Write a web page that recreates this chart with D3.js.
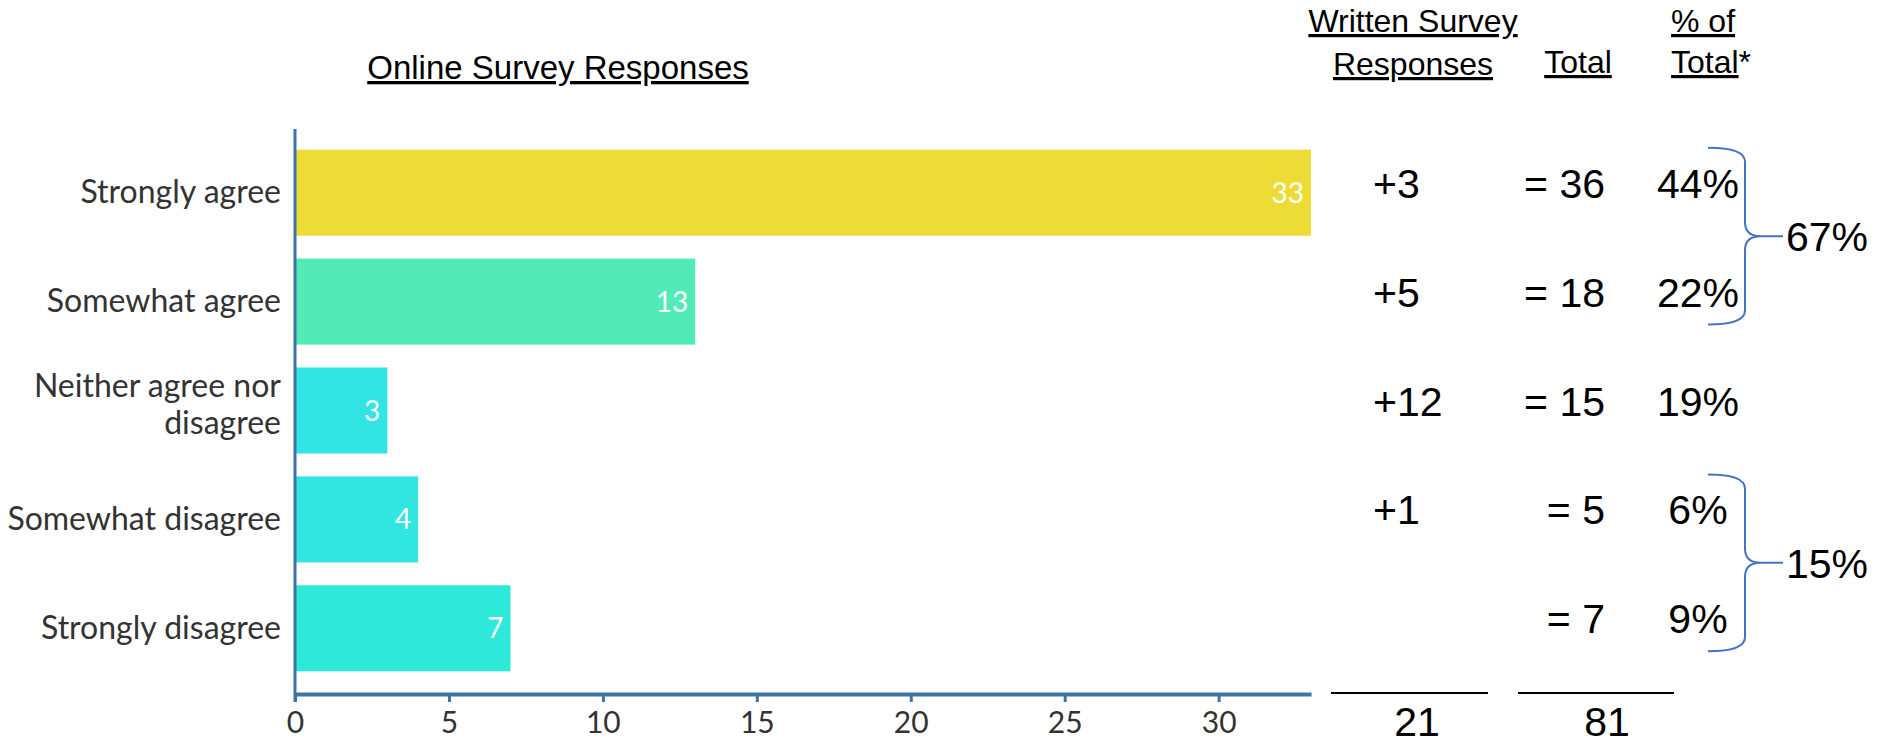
<!DOCTYPE html>
<html>
<head>
<meta charset="utf-8">
<script src="https://cdn.jsdelivr.net/npm/d3@7"></script>
<style>
  body { margin: 0; background: #fff; }
  svg { display: block; }
  .hdr { font-family: "Liberation Sans", Arial, sans-serif; fill: #000; text-decoration: underline; }
  .num { font-family: "Liberation Sans", Arial, sans-serif; fill: #000; }
</style>
</head>
<body>
<svg id="chart" width="1877" height="745"></svg>
<script>
// online survey bars
var categories = ["Strongly agree", "Somewhat agree", "Neither agree nor disagree", "Somewhat disagree", "Strongly disagree"];
var online = [33, 13, 3, 4, 7];
var barColors = ["#EDDC35", "#52EBB8", "#33E4E5", "#31E5E0", "#2EE8D9"];
var xTicks = [0, 5, 10, 15, 20, 25, 30];

// the columns on the right
var written = [3, 5, 12, 1, null];
var totals = [36, 18, 15, 5, 7];
var pctOfTotal = [44, 22, 19, 6, 9];
var groups = [{rows: [0, 1], pct: 67}, {rows: [3, 4], pct: 15}];
var writtenSum = 21;
var grandTotal = 81;

var svg = d3.select("#chart");

var x = d3.scaleLinear().domain([0, 33]).range([295, 1311]);
var y = d3.scaleBand().domain(categories).range([129, 692]).paddingInner(0.21).paddingOuter(0.19);

// bars
svg.selectAll("rect.bar")
    .data(online)
    .enter().append("rect")
    .attr("class", "bar")
    .attr("x", x(0))
    .attr("y", (d, i) => y(categories[i]))
    .attr("width", d => x(d) - x(0))
    .attr("height", y.bandwidth())
    .attr("fill", (d, i) => barColors[i]);

// values inside the bars
svg.selectAll("text.val")
    .data(online)
    .enter().append("text")
    .attr("x", d => x(d) - 7)
    .attr("y", (d, i) => y(categories[i]) + y.bandwidth() / 2)
    .attr("dy", "0.36em")
    .attr("text-anchor", "end")
    .style("font-family", "Lato, sans-serif")
    .style("font-size", "28px")
    .style("fill", "#fff")
    .text(d => d);

// x axis
var xAxis = svg.append("g")
    .attr("transform", "translate(0,694)")
    .call(d3.axisBottom(x).tickValues(xTicks).tickSize(8).tickSizeOuter(0).tickPadding(10));
xAxis.select(".domain").attr("stroke", "#3C75A7").attr("stroke-width", 4);
xAxis.selectAll(".tick line").attr("stroke", "#3C75A7").attr("stroke-width", 3);
xAxis.selectAll(".tick text")
    .style("font-family", "Lato, sans-serif")
    .style("font-size", "30px")
    .style("fill", "#333");

// y axis
var yAxis = svg.append("g")
    .attr("transform", "translate(" + x(0) + ",0)")
    .call(d3.axisLeft(y).tickSize(0).tickPadding(14));
yAxis.select(".domain").remove();
yAxis.append("line")
    .attr("x1", 0).attr("x2", 0)
    .attr("y1", 129).attr("y2", 702)
    .attr("stroke", "#3C75A7").attr("stroke-width", 3);
yAxis.selectAll(".tick text")
    .style("font-family", "Lato, sans-serif")
    .style("font-size", "32px")
    .style("fill", "#333")
    .each(function(d) {
        if (d === "Neither agree nor disagree") {
            var t = d3.select(this);
            var xx = t.attr("x");
            t.text(null).attr("dy", null);
            t.append("tspan").attr("x", xx).attr("dy", "-0.42em").text("Neither agree nor");
            t.append("tspan").attr("x", xx).attr("dy", "1.15em").text("disagree");
        }
    });

// headers
svg.append("text").attr("class", "hdr")
    .attr("x", 558).attr("y", 79)
    .attr("text-anchor", "middle")
    .style("font-size", "33px")
    .text("Online Survey Responses");

svg.append("text").attr("class", "hdr")
    .attr("x", 1413).attr("y", 32)
    .attr("text-anchor", "middle")
    .style("font-size", "32px")
    .text("Written Survey");
svg.append("text").attr("class", "hdr")
    .attr("x", 1413).attr("y", 75)
    .attr("text-anchor", "middle")
    .style("font-size", "32px")
    .text("Responses");
svg.append("text").attr("class", "hdr")
    .attr("x", 1578).attr("y", 73)
    .attr("text-anchor", "middle")
    .style("font-size", "32px")
    .text("Total");
svg.append("text").attr("class", "hdr")
    .attr("x", 1671).attr("y", 32)
    .style("font-size", "32px")
    .text("% of");
var tt = svg.append("text").attr("class", "num")
    .attr("x", 1671).attr("y", 73)
    .style("font-size", "32px");
tt.append("tspan").style("text-decoration", "underline").text("Total");
tt.append("tspan").text("*");

// columns of numbers
var colWritten = 1373, colTotal = 1605, colPct = 1698;
var rowY = i => y(categories[i]) + y.bandwidth() / 2 + 5;

svg.selectAll("text.wr")
    .data(written)
    .enter().filter(d => d !== null).append("text")
    .attr("class", "num")
    .attr("x", colWritten)
    .attr("y", d => rowY(written.indexOf(d)))
    .style("font-size", "41px")
    .text(d => "+" + d);

svg.selectAll("text.tot")
    .data(totals)
    .enter().append("text")
    .attr("class", "num")
    .attr("x", colTotal)
    .attr("y", (d, i) => rowY(i))
    .attr("text-anchor", "end")
    .style("font-size", "41px")
    .text(d => "= " + d);

svg.selectAll("text.pct")
    .data(pctOfTotal)
    .enter().append("text")
    .attr("class", "num")
    .attr("x", colPct)
    .attr("y", (d, i) => rowY(i))
    .attr("text-anchor", "middle")
    .style("font-size", "41px")
    .text(d => d + "%");

// braces for the grouped percentages
groups.forEach(function(g) {
    var top = y(categories[g.rows[0]]) - 2;
    var bot = y(categories[g.rows[1]]) + y.bandwidth() - 20;
    var mid = (top + bot) / 2;
    var x0 = 1708, xv = 1745, xt = 1783, r = 14;
    var p = d3.path();
    p.moveTo(x0, top);
    p.quadraticCurveTo(xv, top, xv, top + r);
    p.lineTo(xv, mid - r);
    p.quadraticCurveTo(xv, mid, xv + 16, mid);
    p.lineTo(xt, mid);
    p.moveTo(xv + 16, mid);
    p.quadraticCurveTo(xv, mid, xv, mid + r);
    p.lineTo(xv, bot - r);
    p.quadraticCurveTo(xv, bot, x0, bot);
    svg.append("path")
        .attr("d", p.toString())
        .attr("fill", "none")
        .attr("stroke", "#4472C4")
        .attr("stroke-width", 2);
    svg.append("text").attr("class", "num")
        .attr("x", xt + 3).attr("y", mid + 15)
        .style("font-size", "41px")
        .text(g.pct + "%");
});

// sum lines and totals
[[1331, 1488, writtenSum, 1417], [1518, 1674, grandTotal, 1607]].forEach(function(s) {
    svg.append("line")
        .attr("x1", s[0]).attr("x2", s[1])
        .attr("y1", 693).attr("y2", 693)
        .attr("stroke", "#000").attr("stroke-width", 2);
    svg.append("text").attr("class", "num")
        .attr("x", s[3]).attr("y", 736)
        .attr("text-anchor", "middle")
        .style("font-size", "41px")
        .text(s[2]);
});
</script>
</body>
</html>
